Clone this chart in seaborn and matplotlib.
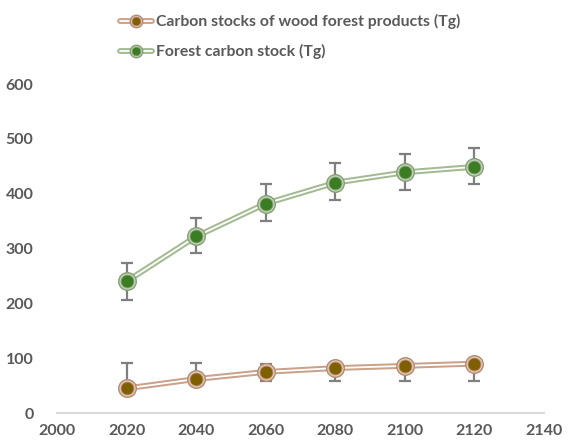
import numpy as np
import seaborn as sns
import matplotlib.pyplot as plt
import pandas as pd
from matplotlib.lines import Line2D
from matplotlib.legend_handler import HandlerTuple

years = [2020, 2040, 2060, 2080, 2100, 2120]
wood_products = [45, 62, 75, 82, 86, 90]
wood_low = [58, 58, 58, 58, 58, 58]
wood_high = [91, 91, 90, 90, 90, 91]
forest_stock = [240, 322, 382, 420, 439, 449]
forest_low = [207, 292, 351, 389, 406, 417]
forest_high = [273, 355, 417, 456, 472, 483]

label_wood = 'Carbon stocks of wood forest products (Tg)'
label_forest = 'Forest carbon stock (Tg)'

df = pd.DataFrame({
    'year': years * 2,
    'value': wood_products + forest_stock,
    'low': wood_low + forest_low,
    'high': wood_high + forest_high,
    'series': [label_wood] * len(years) + [label_forest] * len(years),
})

sns.set_style('white')
plt.rcParams['font.family'] = ['Lato', 'DejaVu Sans']
plt.rcParams['font.weight'] = 'bold'

grey = '#595959'
styles = {
    label_wood: dict(line='#C9A28C', ring='#E3CBBE', edge='#B58A6E', fill='#7F6000'),
    label_forest: dict(line='#A3BA93', ring='#C5D3BB', edge='#86A075', fill='#3B7D23'),
}

fig, ax = plt.subplots(figsize=(5.74, 4.47), dpi=100)
fig.subplots_adjust(left=0.0993, right=0.9477, bottom=0.076, top=0.812)

handles = []
for name, st in styles.items():
    d = df[df.series == name]
    ax.errorbar(d.year, d.value, yerr=[d.value - d.low.clip(upper=d.value), d.high - d.value],
                fmt='none', ecolor='#7F7F7F', elinewidth=1.6, capsize=4.5, capthick=1.6, zorder=2)
    sns.lineplot(data=d, x='year', y='value', color=st['line'], lw=4.2, ax=ax, zorder=3)
    sns.lineplot(data=d, x='year', y='value', color='white', lw=1.3, ax=ax, zorder=3)
    sns.scatterplot(data=d, x='year', y='value', color=st['ring'], s=160, edgecolor=st['edge'],
                    linewidth=1.0, ax=ax, zorder=4)
    sns.scatterplot(data=d, x='year', y='value', color=st['fill'], s=85, edgecolor=st['edge'],
                    linewidth=0.6, ax=ax, zorder=5)
    handles.append((
        Line2D([], [], color=st['line'], lw=4.2),
        Line2D([], [], color='white', lw=1.3),
        Line2D([], [], ls='none', marker='o', ms=9, mfc=st['ring'], mec=st['edge'], mew=1.0),
        Line2D([], [], ls='none', marker='o', ms=6.3, mfc=st['fill'], mec=st['edge'], mew=0.6),
    ))

ax.set_xlim(2000, 2140)
ax.set_ylim(0, 600)
ax.set_xticks(np.arange(2000, 2141, 20))
ax.set_yticks(np.arange(0, 601, 100))
ax.set_xlabel('')
ax.set_ylabel('')
ax.tick_params(axis='x', length=0, pad=8, labelsize=11.5, labelcolor=grey)
ax.tick_params(axis='y', length=0, pad=17, labelsize=11.5, labelcolor=grey)
for lbl in ax.get_xticklabels() + ax.get_yticklabels():
    lbl.set_fontweight('bold')
for side in ['left', 'right', 'top']:
    ax.spines[side].set_visible(False)
ax.spines['bottom'].set_color('#D9D9D9')
ax.spines['bottom'].set_linewidth(1.5)
if ax.get_legend():
    ax.get_legend().remove()

leg = fig.legend(handles, [label_wood, label_forest], loc='upper left',
                 bbox_to_anchor=(0.185, 1.0), frameon=False, fontsize=11.3,
                 handler_map={tuple: HandlerTuple(ndivide=1)},
                 handlelength=2.0, handletextpad=0.3, labelspacing=0.95)
for t in leg.get_texts():
    t.set_color(grey)
    t.set_fontweight('bold')

fig.savefig('out.png', dpi=100)
